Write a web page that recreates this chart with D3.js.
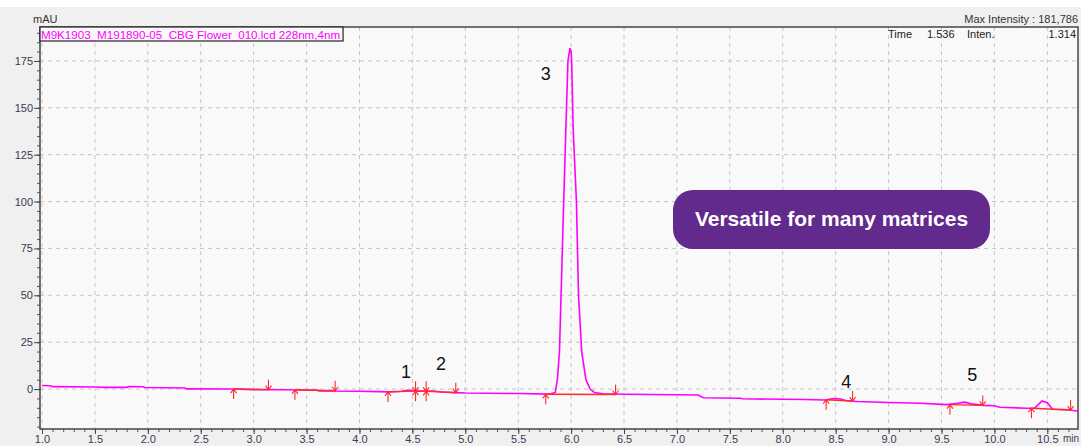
<!DOCTYPE html>
<html>
<head>
<meta charset="utf-8">
<script src="https://cdn.jsdelivr.net/npm/d3@7"></script>
<style>
  body { margin: 0; background: #fff; }
  svg { display: block; font-family: "Liberation Sans", Arial, sans-serif; }
</style>
</head>
<body>
<div id="chart"></div>
<script>
// chromatogram (time in min, signal in mAU)
let times = [1.00, 1.08, 1.10, 1.50, 1.60, 1.80, 1.82, 1.95, 1.97, 2.35, 2.37, 2.80, 3.00, 3.30, 3.60, 3.62,
	4.00, 4.28, 4.40, 4.45, 4.50, 4.53, 4.58, 4.63, 4.70, 4.78, 4.90, 5.00, 5.50, 5.80, 5.85,
	5.87, 5.89, 5.905, 5.93, 5.95, 5.97, 5.99, 6.00, 6.005, 6.02, 6.05, 6.07, 6.10, 6.14, 6.18, 6.22,
	6.30, 6.50, 7.00, 7.20, 7.25, 7.60, 7.62, 8.20, 8.40, 8.48, 8.55, 8.60, 8.70, 9.00, 9.30,
	9.55, 9.65, 9.72, 9.78, 9.90, 10.00, 10.05, 10.30, 10.38, 10.45, 10.50, 10.55, 10.70, 10.79];
let signal = [1.9, 1.8, 1.3, 1.1, 0.9, 0.9, 1.3, 1.2, 0.8, 0.6, 0.1, 0.0, -0.3, -0.4, -0.6, -1.0,
	-1.2, -1.5, -1.2, -0.6, -0.8, -1.1, -1.0, -1.2, -1.0, -1.6, -1.9, -2.1, -2.4, -2.7, -1.8,
	5, 20, 50, 100, 138, 175, 181.8, 180, 175, 138, 100, 50, 20, 5, 0, -1.8,
	-2.5, -2.8, -3.0, -3.2, -4.6, -4.9, -5.2, -5.6, -5.8, -5.0, -5.3, -6.2, -6.6, -7.2, -7.6,
	-8.3, -7.6, -7.0, -7.9, -8.7, -8.9, -9.7, -10.2, -10.2, -6.3, -7.3, -10.8, -11.0, -11.8];

// integration baselines (start / end time and level)
let baseStartT = [2.81, 3.39, 4.27, 4.53, 4.63, 5.76, 8.41, 9.58, 10.35];
let baseStartV = [0.0, -0.4, -1.5, -1.1, -1.2, -2.8, -5.7, -8.3, -10.2];
let baseEndT = [3.14, 3.77, 4.53, 4.63, 4.91, 6.42, 8.66, 9.89, 10.72];
let baseEndV = [-0.3, -0.9, -1.1, -1.2, -1.9, -2.9, -6.4, -8.7, -11.2];

// peak numbers
let peakNames = ["1", "2", "3", "4", "5"];
let peakT = [4.44, 4.77, 5.76, 8.60, 9.79];
let peakV = [8.5, 12.8, 167.5, 3.2, 6.9];

let yTicks = [0, 25, 50, 75, 100, 125, 150, 175];
let xTicks = [1.0, 1.5, 2.0, 2.5, 3.0, 3.5, 4.0, 4.5, 5.0, 5.5, 6.0, 6.5, 7.0, 7.5, 8.0, 8.5, 9.0, 9.5, 10.0, 10.5];

let title = "M9K1903_M191890-05_CBG Flower_010.lcd 228nm,4nm";
let maxText = "Max Intensity : 181,786";
let badge = "Versatile for many matrices";

let width = 1081, height = 446;
let margin = { top: 27, right: 3, bottom: 17, left: 40 };

let svg = d3.select("#chart").append("svg")
	.attr("width", width)
	.attr("height", height);

svg.append("rect").attr("width", width).attr("height", height).attr("fill", "#f0f0f0");
svg.append("rect").attr("width", width).attr("height", 7).attr("fill", "#fff");

let x = d3.scaleLinear()
	.domain([0.981, 10.79])
	.range([margin.left, width - margin.right]);

let y = d3.scaleLinear()
	.domain([-21.3, 193.1])
	.range([height - margin.bottom, margin.top]);

svg.append("rect")
	.attr("x", margin.left)
	.attr("y", margin.top)
	.attr("width", width - margin.left - margin.right)
	.attr("height", height - margin.top - margin.bottom)
	.attr("fill", "#f9f9f9");

// grid
svg.append("g")
	.selectAll("line")
	.data(xTicks)
	.enter().append("line")
	.attr("x1", d => x(d)).attr("x2", d => x(d))
	.attr("y1", margin.top).attr("y2", height - margin.bottom)
	.attr("stroke", "#c4c4c4")
	.attr("stroke-dasharray", "4,4");

svg.append("g")
	.selectAll("line")
	.data(yTicks)
	.enter().append("line")
	.attr("y1", d => y(d)).attr("y2", d => y(d))
	.attr("x1", margin.left).attr("x2", width - margin.right)
	.attr("stroke", "#c4c4c4")
	.attr("stroke-dasharray", "4,4");

// axes
let yMinor = d3.range(-20, 195, 5);
svg.append("g")
	.attr("transform", "translate(" + margin.left + ",0)")
	.call(d3.axisLeft(y).tickValues(yMinor).tickSize(3).tickFormat(""))
	.call(g => g.select(".domain").remove())
	.call(g => g.selectAll("line").attr("stroke", "#555"));

svg.append("g")
	.attr("transform", "translate(" + margin.left + ",0)")
	.call(d3.axisLeft(y).tickValues(yTicks).tickSize(6).tickPadding(1))
	.call(g => g.select(".domain").remove())
	.call(g => g.selectAll("line").attr("stroke", "#444"))
	.call(g => g.selectAll("text").attr("fill", "#3a3a50").attr("font-size", 11)
		.attr("font-family", "Liberation Sans, Arial, sans-serif"));

let xMinor = d3.range(10, 108, 1).map(d => d / 10);
svg.append("g")
	.attr("transform", "translate(0," + (height - margin.bottom) + ")")
	.call(d3.axisBottom(x).tickValues(xMinor).tickSize(3).tickFormat(""))
	.call(g => g.select(".domain").remove())
	.call(g => g.selectAll("line").attr("stroke", "#555"));

svg.append("g")
	.attr("transform", "translate(0," + (height - margin.bottom) + ")")
	.call(d3.axisBottom(x).tickValues(xTicks).tickSize(5).tickPadding(1).tickFormat(d3.format(".1f")))
	.call(g => g.select(".domain").remove())
	.call(g => g.selectAll("line").attr("stroke", "#444"))
	.call(g => g.selectAll("text").attr("fill", "#3a3a50").attr("font-size", 11)
		.attr("font-family", "Liberation Sans, Arial, sans-serif"));

svg.append("text")
	.attr("x", width - 2)
	.attr("y", height - 4)
	.attr("text-anchor", "end")
	.attr("font-size", 10)
	.attr("fill", "#3a3a50")
	.text("min");

// frame
svg.append("rect")
	.attr("x", margin.left)
	.attr("y", margin.top)
	.attr("width", width - margin.left - margin.right)
	.attr("height", height - margin.top - margin.bottom)
	.attr("fill", "none")
	.attr("stroke", "#444")
	.attr("stroke-width", 1.5);

// clip for the traces
svg.append("clipPath").attr("id", "plotclip")
	.append("rect")
	.attr("x", margin.left)
	.attr("y", margin.top)
	.attr("width", width - margin.left - margin.right)
	.attr("height", height - margin.top - margin.bottom);

let plot = svg.append("g").attr("clip-path", "url(#plotclip)");

let pts = times.map((t, i) => [t, signal[i]]);
plot.append("path")
	.datum(pts)
	.attr("fill", "none")
	.attr("stroke", "#f0f")
	.attr("stroke-width", 1.6)
	.attr("d", d3.line().x(d => x(d[0])).y(d => y(d[1])));

// integration baselines + markers
let bases = baseStartT.map((t, i) => ({ t0: t, v0: baseStartV[i], t1: baseEndT[i], v1: baseEndV[i] }));
plot.append("g")
	.selectAll("line")
	.data(bases)
	.enter().append("line")
	.attr("x1", d => x(d.t0)).attr("y1", d => y(d.v0))
	.attr("x2", d => x(d.t1)).attr("y2", d => y(d.v1))
	.attr("stroke", "#ff2a2a")
	.attr("stroke-width", 1.4);

function upArrow(px, py) {
	return "M" + px + "," + (py + 10) + "V" + py + "M" + (px - 3) + "," + (py + 4) + "L" + px + "," + py + "L" + (px + 3) + "," + (py + 4);
}
function downArrow(px, py) {
	return "M" + px + "," + (py - 10) + "V" + py + "M" + (px - 3) + "," + (py - 4) + "L" + px + "," + py + "L" + (px + 3) + "," + (py - 4);
}

let marks = plot.append("g")
	.attr("fill", "none")
	.attr("stroke", "#ff2a2a")
	.attr("stroke-width", 1.1);
bases.forEach(d => {
	marks.append("path").attr("d", upArrow(x(d.t0), y(d.v0)));
	marks.append("path").attr("d", downArrow(x(d.t1), y(d.v1)));
});

// peak numbers
svg.append("g")
	.selectAll("text")
	.data(peakNames)
	.enter().append("text")
	.attr("x", (d, i) => x(peakT[i]))
	.attr("y", (d, i) => y(peakV[i]))
	.attr("text-anchor", "middle")
	.attr("dominant-baseline", "middle")
	.attr("font-size", 18)
	.attr("fill", "#111")
	.text(d => d);

// header texts
svg.append("text")
	.attr("x", 33).attr("y", 23)
	.attr("font-size", 11).attr("fill", "#333")
	.text("mAU");

svg.append("text")
	.attr("x", width - 3).attr("y", 23)
	.attr("text-anchor", "end")
	.attr("font-size", 11).attr("fill", "#333")
	.text(maxText);

let info = svg.append("g").attr("font-size", 11).attr("fill", "#222");
info.append("text").attr("x", 888).attr("y", 38).text("Time");
info.append("text").attr("x", 927).attr("y", 38).text("1.536");
info.append("text").attr("x", 967).attr("y", 38).text("Inten.");
info.append("text").attr("x", width - 5).attr("y", 38).attr("text-anchor", "end").text("1.314");

let titleG = svg.append("g");
let titleBox = titleG.append("rect")
	.attr("x", margin.left).attr("y", margin.top)
	.attr("height", 14)
	.attr("fill", "#f9f9f9")
	.attr("stroke", "#222")
	.attr("stroke-width", 1.2);
let tt = titleG.append("text")
	.attr("x", margin.left + 1).attr("y", 38.5)
	.attr("font-size", 11.6).attr("fill", "#f0f")
	.text(title);
titleBox.attr("width", tt.node().getComputedTextLength() + 4);

// badge
let bx = 673, by = 190, bw = 317, bh = 59;
svg.append("rect")
	.attr("x", bx).attr("y", by)
	.attr("width", bw).attr("height", bh)
	.attr("rx", 20)
	.attr("fill", "#622a8c");
svg.append("text")
	.attr("x", bx + bw / 2).attr("y", by + bh / 2 + 1)
	.attr("text-anchor", "middle")
	.attr("dominant-baseline", "middle")
	.attr("font-size", 21)
	.attr("font-weight", "bold")
	.attr("fill", "#fff")
	.text(badge);
</script>
</body>
</html>
